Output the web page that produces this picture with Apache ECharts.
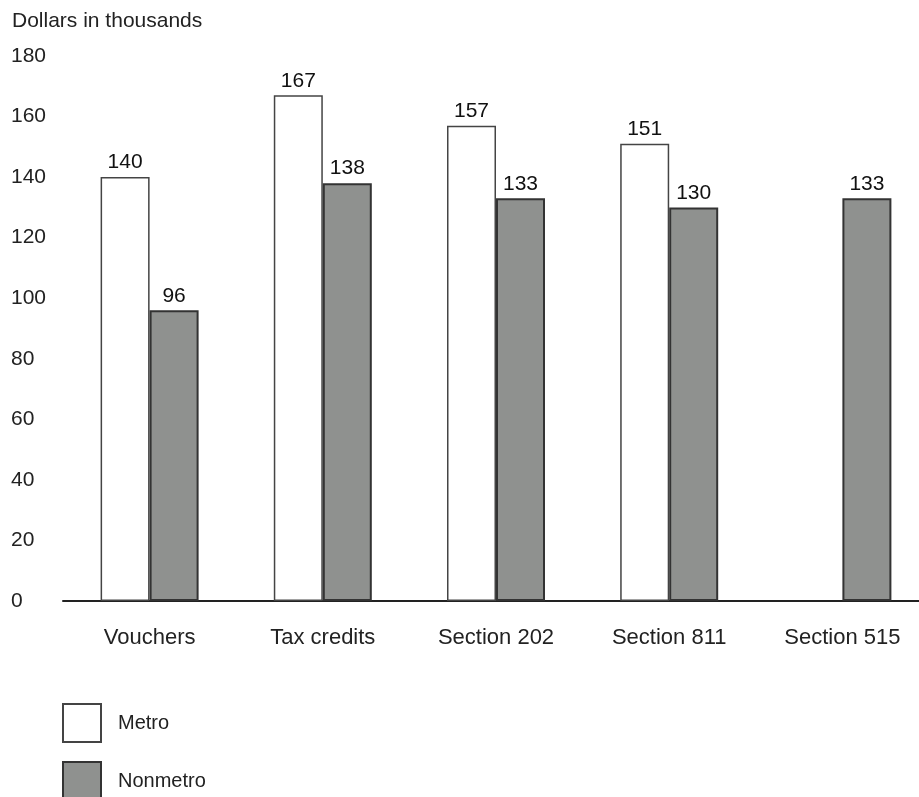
<!DOCTYPE html>
<html>
<head>
<meta charset="utf-8">
<script src="https://cdn.jsdelivr.net/npm/echarts@6/dist/echarts.min.js"></script>
<style>
  html, body { margin: 0; padding: 0; background: #fff; overflow: hidden; }
  #chart { width: 940px; height: 797px; }
</style>
</head>
<body>
<div id="chart"></div>
<script>
// categories and values
const categories = ["Vouchers", "Tax credits", "Section 202", "Section 811", "Section 515"];
const metro = [140, 167, 157, 151, null];
const nonmetro = [96, 138, 133, 130, 133];
const yTicks = { min: 0, max: 180, interval: 20 };

const font = "Liberation Sans";

// the axis runs past the right edge of the picture, so the div is a bit wider than the window
let myChart = echarts.init(document.getElementById("chart"));
myChart.setOption({
    animation: false,
    textStyle: { fontFamily: font },
    title: {
        text: "Dollars in thousands",
        left: 7, top: 6,
        textStyle: { fontSize: 21, fontWeight: "normal", color: "#222", fontFamily: font }
    },
    grid: { left: 63, top: 56, width: 866, height: 545, containLabel: false },
    legend: {
        orient: "vertical",
        left: 57, top: 698, height: 150,
        itemWidth: 38, itemHeight: 38, itemGap: 18,
        icon: "rect",
        textStyle: { fontSize: 20, color: "#222", padding: [0, 0, 0, 12] },
        data: [
            { name: "Metro", itemStyle: { borderColor: "#444", borderWidth: 2 } },
            { name: "Nonmetro", itemStyle: { borderColor: "#333", borderWidth: 2 } }
        ]
    },
    xAxis: {
        type: "category",
        data: categories,
        axisLine: { lineStyle: { color: "#222", width: 2 } },
        axisTick: { show: false },
        axisLabel: { fontSize: 22, color: "#222", margin: 26 }
    },
    yAxis: {
        type: "value",
        min: yTicks.min, max: yTicks.max, interval: yTicks.interval,
        axisLine: { show: false },
        axisTick: { show: false },
        splitLine: { show: false },
        axisLabel: { fontSize: 21, color: "#222", align: "left", margin: 52 }
    },
    series: [
        {
            name: "Metro", type: "bar", data: metro,
            barWidth: 49, barGap: "0%",
            itemStyle: { color: "#fff", borderColor: "#444", borderWidth: 1.5 },
            label: { show: true, position: "top", fontSize: 21, color: "#111", distance: 4 }
        },
        {
            name: "Nonmetro", type: "bar", data: nonmetro,
            barWidth: 49,
            itemStyle: { color: "#8f918f", borderColor: "#333", borderWidth: 2 },
            label: { show: true, position: "top", fontSize: 21, color: "#111", distance: 4 }
        }
    ]
});
</script>
</body>
</html>
